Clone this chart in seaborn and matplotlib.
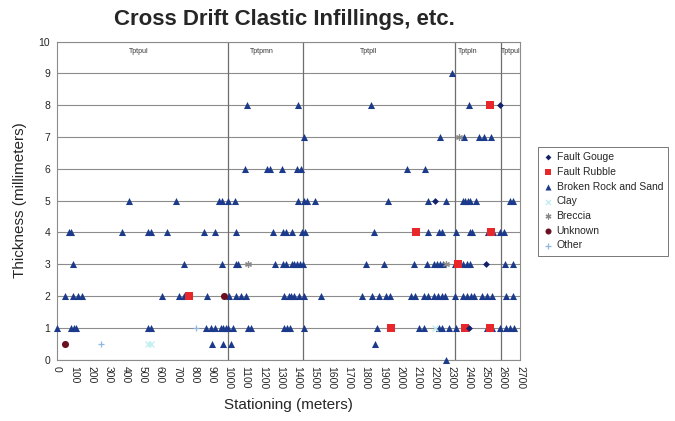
import matplotlib
matplotlib.use("Agg")
import matplotlib.pyplot as plt
import seaborn as sns
import pandas as pd

# ---------------- data (stationing in meters, thickness in mm) ----------------
broken_x = [
    # level 0 / 0.5
    2268, 902, 970, 1014, 1852,
    # level 1
    0, 81, 97, 111, 528, 547, 867, 896, 921, 954, 970, 983, 999, 1028, 1113, 1129,
    1323, 1342, 1358, 1443, 1866, 2110, 2141, 2225, 2244, 2283, 2328, 2509, 2535,
    2584, 2619, 2642, 2665,
    # level 2
    47, 91, 124, 144, 615, 712, 741, 873, 1003, 1042, 1071, 1100, 1323, 1352, 1367,
    1381, 1410, 1439, 1542, 1779, 1835, 1876, 1920, 1940, 2066, 2089, 2141, 2161,
    2200, 2219, 2244, 2264, 2322, 2366, 2390, 2413, 2429, 2477, 2506, 2535, 2619, 2661,
    # level 3
    91, 741, 962, 1042, 1055, 1269, 1319, 1333, 1371, 1385, 1400, 1416, 1435, 1804,
    1905, 2081, 2157, 2200, 2215, 2235, 2250, 2318, 2370, 2390, 2409, 2613, 2657,
    # level 4
    70, 81, 378, 528, 547, 644, 858, 921, 1042, 1261, 1319, 1333, 1371, 1430, 1449,
    1847, 2165, 2228, 2244, 2324, 2407, 2421, 2516, 2542, 2584, 2609,
    # level 5
    421, 692, 945, 960, 999, 1038, 1406, 1439, 1455, 1503, 1930, 2161, 2268, 2366,
    2380, 2394, 2409, 2444, 2642, 2657,
    # level 6
    1096, 1226, 1245, 1311, 1397, 1425, 2041, 2147,
    # level 7
    1439, 2231, 2376, 2460, 2489, 2530,
    # level 8
    1109, 1404, 1832, 2405,
    # level 9
    2302,
]
broken_y = (
    [0, 0.5, 0.5, 0.5, 0.5]
    + [1] * 33
    + [2] * 42
    + [3] * 27
    + [4] * 26
    + [5] * 20
    + [6] * 8
    + [7] * 6
    + [8] * 4
    + [9] * 1
)

gouge_x = [2405, 2500, 2207, 2584]
gouge_y = [1, 3, 5, 8]

rubble_x = [1950, 2380, 2524, 770, 2341, 2093, 2530, 2526]
rubble_y = [1, 1, 1, 2, 3, 4, 4, 8]

clay_x = [528, 547, 2205]
clay_y = [0.5, 0.5, 1]

breccia_x = [1113, 2269, 2345]
breccia_y = [3, 3, 7]

unknown_x = [47, 974]
unknown_y = [0.5, 2]

other_x = [256, 809]
other_y = [0.5, 1]

formations = ["Tptpul", "Tptpmn", "Tptpll", "Tptpln", "Tptpul"]
formation_label_x = [476, 1195, 1816, 2395, 2645]
formation_bounds = [1000, 1435, 2320, 2590]

x_ticks = list(range(0, 2701, 100))
y_ticks = list(range(0, 11))

series_names = ["Fault Gouge", "Fault Rubble", "Broken Rock and Sand", "Clay",
                "Breccia", "Unknown", "Other"]

frames = []
for name, xs, ys in [
    ("Fault Gouge", gouge_x, gouge_y),
    ("Fault Rubble", rubble_x, rubble_y),
    ("Broken Rock and Sand", broken_x, broken_y),
    ("Clay", clay_x, clay_y),
    ("Breccia", breccia_x, breccia_y),
    ("Unknown", unknown_x, unknown_y),
    ("Other", other_x, other_y),
]:
    frames.append(pd.DataFrame({"Stationing": xs, "Thickness": ys, "Type": name}))
df = pd.concat(frames, ignore_index=True)

styles = {
    "Fault Gouge": dict(marker="D", color="#13206b", s=12, z=5),
    "Fault Rubble": dict(marker="s", color="#e8272a", s=26, z=4),
    "Broken Rock and Sand": dict(marker="^", color="#1c3a8c", s=26, z=3),
    "Clay": dict(marker="x", color="#bfeef0", s=18, z=6),
    "Breccia": dict(marker=(6, 2, 0), color="#8a8a8a", s=18, z=6),
    "Unknown": dict(marker="o", color="#6b1020", s=26, z=5),
    "Other": dict(marker="+", color="#8fb8e0", s=20, z=6),
}

# ---------------- figure ----------------
sns.set_style("white")
plt.rcParams["font.family"] = ["Liberation Sans", "DejaVu Sans"]

fig = plt.figure(figsize=(6.75, 4.21), dpi=100)
ax = fig.add_axes([0.0844, 0.146, 0.6860, 0.7554])

for name in series_names:
    st = styles[name]
    sub = df[df["Type"] == name]
    filled = st["marker"] not in ("x", "+") and not isinstance(st["marker"], tuple)
    kw = dict(edgecolor=st["color"], linewidth=0) if filled else dict(linewidth=0.9)
    sns.scatterplot(data=sub, x="Stationing", y="Thickness", ax=ax,
                    marker=st["marker"], color=st["color"], s=st["s"],
                    label=name, zorder=st["z"], clip_on=False, **kw)

ax.set_xlim(0, 2700)
ax.set_ylim(0, 10)
ax.set_xticks(x_ticks)
ax.set_yticks(y_ticks)
ax.set_xticklabels([str(t) for t in x_ticks], rotation=-90, fontsize=7.5)
ax.set_yticklabels([str(t) for t in y_ticks], fontsize=7.5)
ax.tick_params(axis="x", direction="out", length=3, width=0.6, color="#888888", pad=2)
ax.tick_params(axis="y", direction="out", length=3, width=0.6, color="#888888", pad=2)

ax.yaxis.grid(True, color="#8c8c8c", linewidth=0.8)
ax.xaxis.grid(False)
ax.set_axisbelow(True)
for sp in ax.spines.values():
    sp.set_color("#8c8c8c")
    sp.set_linewidth(0.8)

for b in formation_bounds:
    ax.axvline(b, color="#6e6e6e", linewidth=0.9, zorder=1)
for name, lx in zip(formations, formation_label_x):
    ax.text(lx, 9.68, name, fontsize=5, ha="center", va="center", color="#333333")

ax.set_xlabel("Stationing (meters)", fontsize=11, labelpad=6)
ax.set_ylabel("Thickness (millimeters)", fontsize=11, labelpad=8)
fig.text(0.422, 0.953, "Cross Drift Clastic Infillings, etc.", fontsize=16,
         fontweight="bold", ha="center", va="center")

leg = ax.legend(loc="center left", bbox_to_anchor=(0.789, 0.522),
                bbox_transform=fig.transFigure, fontsize=7.5, frameon=True,
                fancybox=False, edgecolor="#555555", handletextpad=0.3,
                borderpad=0.5, labelspacing=0.45, handlelength=1.0,
                markerscale=0.85)
leg.get_frame().set_linewidth(0.7)

fig.savefig("out.png", dpi=100)
